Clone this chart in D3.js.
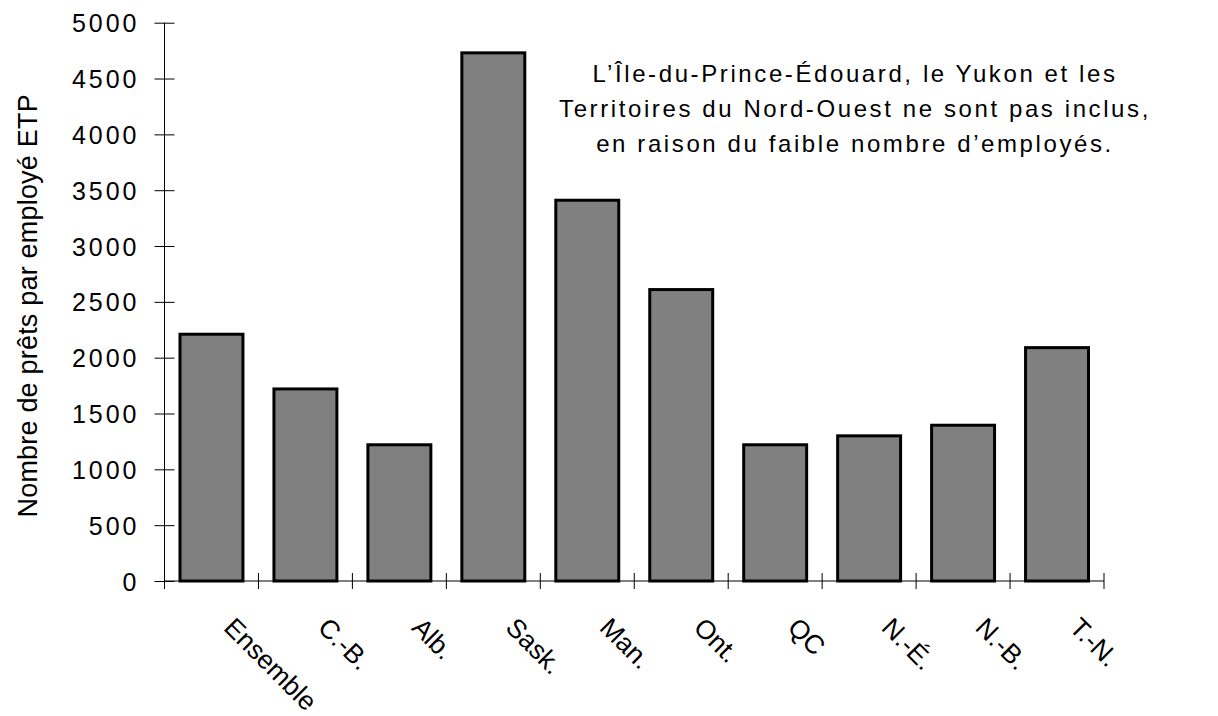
<!DOCTYPE html>
<html>
<head>
<meta charset="utf-8">
<script src="https://cdn.jsdelivr.net/npm/d3@7"></script>
<style>
  html, body { margin: 0; padding: 0; background: #fff; }
  svg { display: block; font-family: "Liberation Sans", Arial, sans-serif; }
</style>
</head>
<body>
<svg id="chart" width="1218" height="716"></svg>
<script>
const categories = ["Ensemble", "C.-B.", "Alb.", "Sask.", "Man.", "Ont.", "QC", "N.-É.", "N.-B.", "T.-N."];
const values = [2210, 1720, 1220, 4730, 3410, 2610, 1220, 1300, 1395, 2090];
const yTicks = [0, 500, 1000, 1500, 2000, 2500, 3000, 3500, 4000, 4500, 5000];
const yAxisTitle = "Nombre de prêts par employé ETP";
const noteLines = [
  "L\u2019Île-du-Prince-Édouard, le Yukon et les",
  "Territoires du Nord-Ouest ne sont pas inclus,",
  "en raison du faible nombre d\u2019employés."
];

const svg = d3.select("#chart");
const x0 = 164.5, x1 = 1104, yTop = 22.7, yBot = 581;

const x = d3.scaleBand().domain(categories).range([x0, x1]).paddingInner(0.33).paddingOuter(0.165);
const y = d3.scaleLinear().domain([0, 5000]).range([yBot, yTop]);

// Bars
svg.append("g").selectAll("rect").data(values).join("rect")
  .attr("x", (d, i) => x(categories[i]))
  .attr("width", x.bandwidth())
  .attr("y", d => y(d))
  .attr("height", d => y(0) - y(d))
  .attr("fill", "#808080")
  .attr("stroke", "#000")
  .attr("stroke-width", 3);

// Y axis
const yAxis = svg.append("g").attr("transform", `translate(${x0},0)`)
  .call(d3.axisLeft(y).tickValues(yTicks).tickSize(10).tickPadding(18).tickFormat(d3.format("d")));
yAxis.select(".domain").attr("d", `M0,${yTop}V${yBot}`).attr("stroke", "#000");
yAxis.selectAll(".tick line").attr("stroke", "#000");
yAxis.selectAll(".tick").append("line").attr("x1", 0).attr("x2", 10).attr("stroke", "#000");
yAxis.selectAll(".tick text")
  .attr("font-size", 25).attr("fill", "#000")
  .attr("font-family", "Liberation Sans, Arial, sans-serif")
  .attr("letter-spacing", 3).attr("dx", 3).attr("dy", "0.36em");

// X axis line and boundary ticks
svg.append("line").attr("x1", x0).attr("x2", x1).attr("y1", yBot).attr("y2", yBot).attr("stroke", "#000");
const bounds = d3.range(categories.length + 1).map(i => x0 + i * x.step());
svg.append("g").selectAll("line").data(bounds).join("line")
  .attr("x1", d => d).attr("x2", d => d)
  .attr("y1", yBot - 8).attr("y2", yBot + 8)
  .attr("stroke", "#000");

// Category labels, rotated 45°
svg.append("g").selectAll("text").data(categories).join("text")
  .attr("transform", d => `translate(${x(d) + x.bandwidth() / 2 + 11},629) rotate(45)`)
  .attr("font-size", 26.5)
  .attr("fill", "#000")
  .text(d => d);

// Y axis title
svg.append("text")
  .attr("transform", `translate(37,${(yTop + yBot) / 2 + 4}) rotate(-90)`)
  .attr("text-anchor", "middle")
  .attr("font-size", 27)
  .attr("letter-spacing", 0.2)
  .attr("fill", "#000")
  .text(yAxisTitle);

// Annotation
svg.append("g").selectAll("text").data(noteLines).join("text")
  .attr("x", 855)
  .attr("y", (d, i) => 82 + i * 35)
  .attr("text-anchor", "middle")
  .attr("font-size", 24)
  .attr("letter-spacing", 2.6)
  .attr("fill", "#000")
  .text(d => d);
</script>
</body>
</html>
